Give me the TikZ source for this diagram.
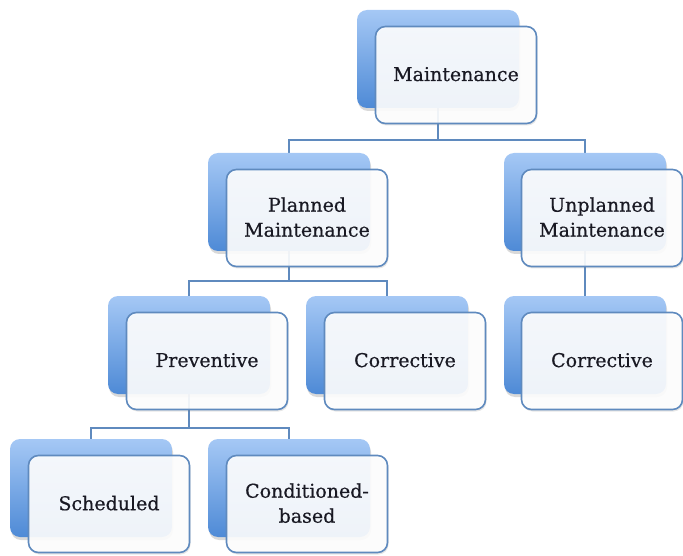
\documentclass[tikz,border=0pt]{standalone}
\usepackage{fontspec}
\setmainfont{DejaVu Serif}
\usetikzlibrary{shadows,backgrounds}
\definecolor{linec}{RGB}{95,138,190}
\definecolor{backtop}{RGB}{165,200,245}
\definecolor{backbot}{RGB}{78,138,214}
\definecolor{txt}{RGB}{25,25,35}
\begin{document}
\begin{tikzpicture}[x=1pt,y=-1pt,
 backbox/.style={rounded corners=10pt, minimum width=162pt, minimum height=98pt,
   top color=backtop, bottom color=backbot, draw=none,
   drop shadow={opacity=0.3, shadow xshift=1pt, shadow yshift=-3pt}},
 frontbox/.style={rounded corners=10pt, minimum width=161pt, minimum height=97pt,
   draw=linec, line width=1.6pt, fill=white, fill opacity=0.9, text opacity=1,
   text=txt, align=center,
   font=\fontsize{19}{25}\selectfont\addfontfeature{FakeBold=0.5},
   text depth=2pt,
   drop shadow={opacity=0.2, shadow xshift=1pt, shadow yshift=-2pt}},
 conn/.style={draw=linec, line width=1.8pt}]
\useasboundingbox (0,0) rectangle (683,556);
% level 1
\node[backbox] (mb) at (438,59) {};
\node[frontbox] (m) at (456,75) {Maintenance};
% level 2
\node[backbox] (pb) at (289,202) {};
\node[frontbox] (p) at (307,218) {Planned\\Maintenance};
\node[backbox] (ub) at (585,202) {};
\node[frontbox] (u) at (602,218) {Unplanned\\Maintenance};
% level 3
\node[backbox] (prb) at (189,345) {};
\node[frontbox] (pr) at (207,361) {Preventive};
\node[backbox] (cpb) at (387,345) {};
\node[frontbox] (cp) at (405,361) {Corrective};
\node[backbox] (cub) at (585,345) {};
\node[frontbox] (cu) at (602,361) {Corrective};
% level 4
\node[backbox] (sb) at (91,488) {};
\node[frontbox] (s) at (109,504) {Scheduled};
\node[backbox] (cbb) at (289,488) {};
\node[frontbox] (cb) at (307,504) {Conditioned-\\based};
% connectors
\begin{pgfonlayer}{background}
\draw[conn] (mb.center) -- (438,140) coordinate (h1) -| (pb.north);
\draw[conn] (h1) -| (ub.north);
\draw[conn] (pb.center) -- (289,281) coordinate (h2) -| (prb.north);
\draw[conn] (h2) -| (cpb.north);
\draw[conn] (ub.center) -- (cub.north);
\draw[conn] (prb.center) -- (189,428) coordinate (h3) -| (sb.north);
\draw[conn] (h3) -| (cbb.north);
\end{pgfonlayer}
\end{tikzpicture}
\end{document}
